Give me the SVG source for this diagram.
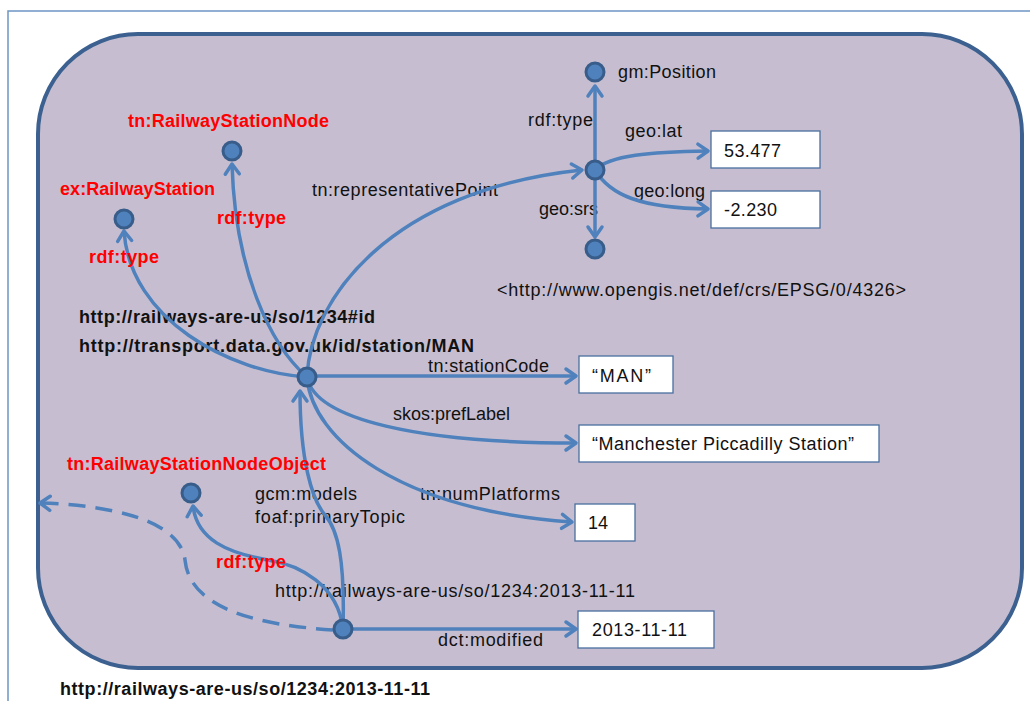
<svg xmlns="http://www.w3.org/2000/svg" width="1030" height="701" viewBox="0 0 1030 701">
<style>
.t{font-family:"Liberation Sans",Arial,sans-serif;font-size:18px;fill:#111}
.b{font-family:"Liberation Sans",Arial,sans-serif;font-size:18px;font-weight:bold;fill:#111}
.r{font-family:"Liberation Sans",Arial,sans-serif;font-size:18px;font-weight:bold;fill:#ff0000}
.e{fill:none;stroke:#4f81bd;stroke-width:3.5;marker-end:url(#arr)}
.d{stroke-dasharray:17 10}
.n{fill:#4f81bd;stroke:#385d8a;stroke-width:3}
.box{fill:#fff;stroke:#4a6f9e;stroke-width:1.3}
</style>
<defs>
<marker id="arr" markerUnits="userSpaceOnUse" markerWidth="16" markerHeight="16" refX="12" refY="8" orient="auto" overflow="visible">
<path d="M2,1 L12,8 L2,15" fill="none" stroke="#4f81bd" stroke-width="3.5" stroke-linecap="round" stroke-linejoin="round"/>
</marker>
</defs>
<rect x="0" y="0" width="1030" height="701" fill="#fff"/>
<rect x="8" y="11" width="1040" height="720" fill="none" stroke="#6d94c5" stroke-width="1.5"/>
<rect id="graph" x="38" y="34" width="984" height="634" rx="100" ry="100" fill="#c6bed0" stroke="#3c6190" stroke-width="4"/>

<g id="labels">
<text class="t" x="618" y="78" textLength="98">gm:Position</text>
<text class="t" x="528" y="126" textLength="65">rdf:type</text>
<text class="t" x="625" y="137" textLength="57">geo:lat</text>
<text class="t" x="634" y="197" textLength="71">geo:long</text>
<text class="t" x="539" y="215" textLength="59">geo:srs</text>
<text class="t" x="312" y="196" textLength="186">tn:representativePoint</text>
<text class="t" x="497" y="296" textLength="409">&lt;http://www.opengis.net/def/crs/EPSG/0/4326&gt;</text>
<text class="b" x="79" y="323" textLength="296">http://railways-are-us/so/1234#id</text>
<text class="b" x="79" y="352" textLength="395">http://transport.data.gov.uk/id/station/MAN</text>
<text class="t" x="428" y="372" textLength="121">tn:stationCode</text>
<text class="t" x="393" y="420" textLength="117">skos:prefLabel</text>
<text class="t" x="420" y="500" textLength="140">tn:numPlatforms</text>
<text class="t" x="255" y="500" textLength="102">gcm:models</text>
<text class="t" x="255" y="523" textLength="150">foaf:primaryTopic</text>
<text class="t" x="275" y="597" textLength="360">http://railways-are-us/so/1234:2013-11-11</text>
<text class="t" x="438" y="646" textLength="105">dct:modified</text>
<text class="b" x="60" y="695" textLength="370">http://railways-are-us/so/1234:2013-11-11</text>
</g>

<g id="connectors">
<path class="e" d="M307,377 C230,372 130,320 124,231"/>
<path class="e" d="M307,377 C270,345 235,270 232,164"/>
<path class="e" d="M307,377 C310,300 390,190 582,170"/>
<path class="e" d="M307,376 L576,376"/>
<path class="e" d="M307,377 C315,420 420,443 576,443"/>
<path class="e" d="M307,377 C312,440 400,510 572,522"/>
<path class="e" d="M343,629 C345,560 338,530 325,515 S300,460 300,391"/>
<path class="e" d="M343,629 C338,585 300,565 268,560 C228,553 197,540 193,506"/>
<path class="e" d="M343,629 L576,629"/>
<path class="e d" d="M333,630 C260,625 190,610 185,560 C180,520 110,505 40,503"/>
<path class="e" d="M595,170 L595,86"/>
<path class="e" d="M595,170 L595,237"/>
<path class="e" d="M595,170 C610,155 650,152 708,151"/>
<path class="e" d="M595,170 C610,195 640,208 708,209"/>
</g>

<g id="edge-class-labels">
<text class="r" x="217" y="224" textLength="69">rdf:type</text>
<text class="r" x="89" y="263" textLength="70">rdf:type</text>
<text class="r" x="216" y="568" textLength="70">rdf:type</text>
</g>

<g id="node-central"><circle class="n" cx="307" cy="377" r="9"/></g>
<g id="node-ex-RailwayStation"><circle class="n" cx="124" cy="219" r="9"/><text class="r" x="60" y="195" textLength="155">ex:RailwayStation</text></g>
<g id="node-tn-RailwayStationNode"><circle class="n" cx="232" cy="151" r="9"/><text class="r" x="128" y="127" textLength="201">tn:RailwayStationNode</text></g>
<g id="node-point"><circle class="n" cx="595" cy="170" r="9"/></g>
<g id="node-gm-Position"><circle class="n" cx="595" cy="72" r="9"/></g>
<g id="node-srs"><circle class="n" cx="595" cy="249" r="9"/></g>
<g id="node-object"><circle class="n" cx="343" cy="629" r="9"/></g>
<g id="node-tn-RailwayStationNodeObject"><circle class="n" cx="191" cy="493" r="9"/><text class="r" x="67" y="470" textLength="259">tn:RailwayStationNodeObject</text></g>

<g id="lit-lat"><rect class="box" x="711" y="131" width="109" height="37"/><text class="t" x="724" y="157" textLength="57">53.477</text></g>
<g id="lit-long"><rect class="box" x="711" y="191" width="109" height="37"/><text class="t" x="724" y="216" textLength="53">-2.230</text></g>
<g id="lit-code"><rect class="box" x="579" y="356" width="94" height="37"/><text class="t" x="592" y="382" textLength="59">“MAN”</text></g>
<g id="lit-label"><rect class="box" x="579" y="425" width="300" height="37"/><text class="t" x="592" y="450" textLength="262">“Manchester Piccadilly Station”</text></g>
<g id="lit-platforms"><rect class="box" x="575" y="504" width="60" height="37"/><text class="t" x="588" y="529" textLength="20">14</text></g>
<g id="lit-modified"><rect class="box" x="578" y="611" width="136" height="37"/><text class="t" x="592" y="636" textLength="95">2013-11-11</text></g>
</svg>
